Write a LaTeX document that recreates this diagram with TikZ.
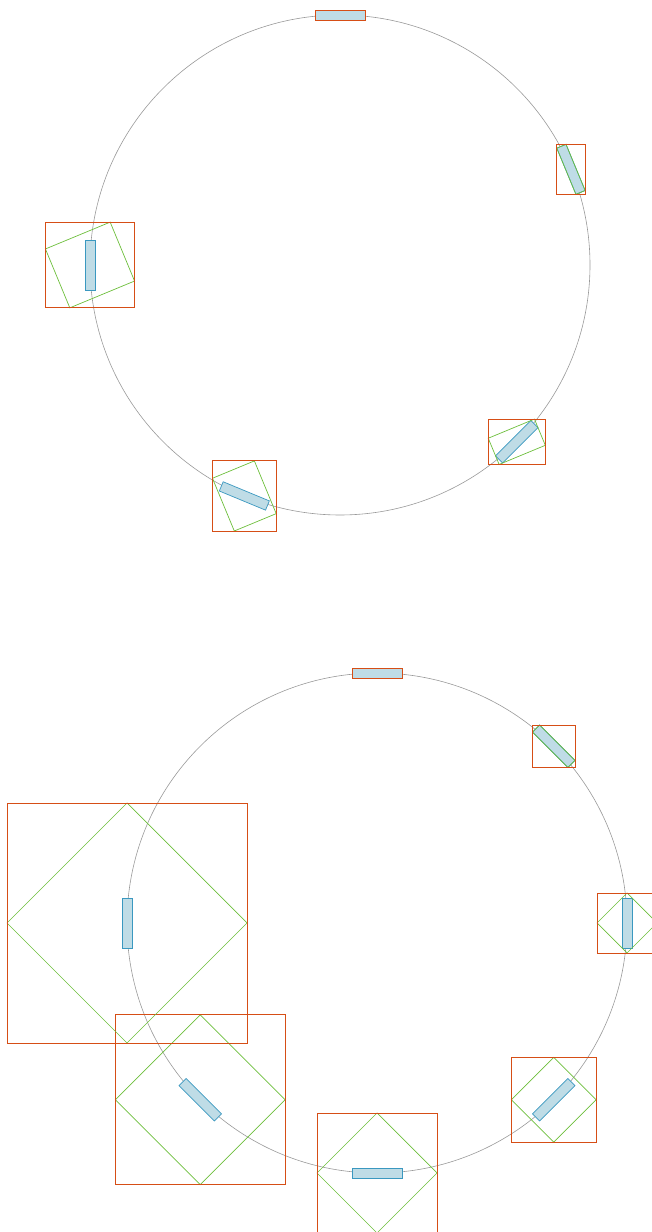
\documentclass[tikz,border=0pt]{standalone}
\definecolor{boxfill}{RGB}{191,220,230}
\definecolor{boxline}{RGB}{58,152,192}
\definecolor{rotline}{RGB}{108,190,58}
\definecolor{bboxline}{RGB}{214,78,22}
\tikzset{
  track/.style={draw=black!40, line width=0.6pt},
  item/.style={draw=boxline, fill=boxfill, line width=0.7pt},
  rotbox/.style={draw=rotline, line width=0.7pt},
  aabb/.style={draw=bboxline, line width=0.9pt},
}
\begin{document}
\begin{tikzpicture}[x=1pt,y=1pt]
  \useasboundingbox (0,0) rectangle (652,1232);

  % Steps of 67.5 degrees
  \begin{scope}[shift={(340,967)}]
    \draw[track] (0,0) circle (250);
    \foreach \a/\r/\gw/\gh/\ow/\oh in {90/0/50/10/50/10,
        22.5/-67.5/50/10/28.373/50.021,
        -45/-67.5/28.373/50.021/57.071/45.355,
        -112.5/-67.5/57.071/45.355/63.742/70.084,
        -180/-67.5/63.742/70.084/89.142/85.710}{
      \begin{scope}[shift={(\a:250)}]
        \draw[item, rotate=\a-90] (-25,-5) rectangle (25,5);
        \draw[rotbox, rotate=\r] (-\gw/2,-\gh/2) rectangle (\gw/2,\gh/2);
        \draw[aabb] (-\ow/2,-\oh/2) rectangle (\ow/2,\oh/2);
      \end{scope}
    }
  \end{scope}

  % Steps of 45 degrees
  \begin{scope}[shift={(377,309)}]
    \draw[track] (0,0) circle (250);
    \foreach \a/\r/\gw/\gh/\ow/\oh in {90/0/50/10/50/10,
        45/-45/50/10/42.426/42.426,
        0/-45/42.426/42.426/60/60,
        -45/-45/60/60/84.853/84.853,
        -90/-45/84.853/84.853/120/120,
        -135/-45/120/120/169.706/169.706,
        -180/-45/169.706/169.706/240/240}{
      \begin{scope}[shift={(\a:250)}]
        \draw[item, rotate=\a-90] (-25,-5) rectangle (25,5);
        \draw[rotbox, rotate=\r] (-\gw/2,-\gh/2) rectangle (\gw/2,\gh/2);
        \draw[aabb] (-\ow/2,-\oh/2) rectangle (\ow/2,\oh/2);
      \end{scope}
    }
  \end{scope}
\end{tikzpicture}
\end{document}
